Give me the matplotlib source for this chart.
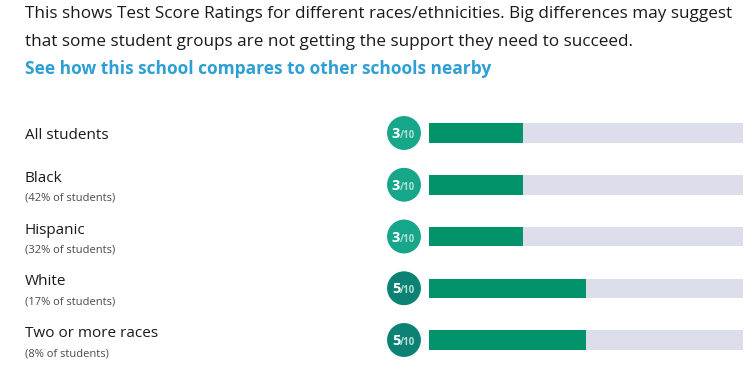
import matplotlib
matplotlib.use("Agg")
import matplotlib.pyplot as plt
from matplotlib.transforms import ScaledTranslation

groups = ["All students", "Black", "Hispanic", "White", "Two or more races"]
shares = [None, "(42% of students)", "(32% of students)", "(17% of students)", "(8% of students)"]
ratings = [3, 3, 3, 5, 5]
max_rating = 10

intro_lines = [
    "This shows Test Score Ratings for different races/ethnicities. Big differences may suggest",
    "that some student groups are not getting the support they need to succeed.",
]
link_text = "See how this school compares to other schools nearby"

W, H = 749, 374
DPI = 100
fig = plt.figure(figsize=(W / DPI, H / DPI), dpi=DPI)
fig.patch.set_facecolor("white")
FONT = "Open Sans"

def px(x, y):
    return x / W, 1 - y / H

# Intro text
for i, line in enumerate(intro_lines):
    fig.text(*px(25, 18.5 + 27.5 * i), line, fontsize=12.35, family=FONT,
             color="#1a1a1a", va="baseline", ha="left")
fig.text(*px(25, 73.5), link_text, fontsize=12.5, family=FONT, weight="bold",
         color="#2d9fd4", va="baseline", ha="left")

# Bars axis
row_h = 51.75
top = 133 - row_h / 2
n = len(groups)
ax = fig.add_axes([429 / W, 1 - (top + n * row_h) / H, 314 / W, n * row_h / H])
ax.set_xlim(0, max_rating)
ax.set_ylim(n - 0.5, -0.5)
ax.axis("off")

ys = list(range(n))
bh = 19.5 / row_h
ax.barh(ys, [max_rating] * n, height=bh, color="#dcdeec", edgecolor="none")
ax.barh(ys, ratings, height=bh, color="#02936a", edgecolor="none")

# Rating circles
off = ax.transData + ScaledTranslation(-25 / DPI, 0, fig.dpi_scale_trans)
circ_colors = ["#16a68a" if r < 5 else "#0b8273" for r in ratings]
ax.scatter([0] * n, ys, s=(35 * 72 / DPI) ** 2, c=circ_colors, transform=off,
           clip_on=False, zorder=3, edgecolors="white", linewidths=0.8)
for y, r in zip(ys, ratings):
    ax.annotate(str(r), xy=(0, y), xycoords=off, xytext=(-12, -5), textcoords="offset pixels",
                fontsize=10.5, weight="bold", family=FONT, color="white",
                ha="left", va="baseline", zorder=4, annotation_clip=False)
    ax.annotate("/10", xy=(0, y), xycoords=off, xytext=(-4, -5), textcoords="offset pixels",
                fontsize=7, weight="bold", family=FONT, color="#b5ddd5",
                ha="left", va="baseline", zorder=4, annotation_clip=False)

# Labels
for y, g, s in zip(ys, groups, shares):
    if s is None:
        ax.annotate(g, xy=(25, y), xycoords=("figure pixels", "data"), xytext=(0, -6),
                    textcoords="offset pixels", fontsize=11, family=FONT, color="#1a1a1a",
                    ha="left", va="baseline", annotation_clip=False)
    else:
        ax.annotate(g, xy=(25, y), xycoords=("figure pixels", "data"), xytext=(0, 3),
                    textcoords="offset pixels", fontsize=11, family=FONT, color="#1a1a1a",
                    ha="left", va="baseline", annotation_clip=False)
        ax.annotate(s, xy=(25, y), xycoords=("figure pixels", "data"), xytext=(0, -16),
                    textcoords="offset pixels", fontsize=8, family=FONT, color="#4a4a4a",
                    ha="left", va="baseline", annotation_clip=False)

fig.savefig("out.png", dpi=DPI, facecolor="white")
